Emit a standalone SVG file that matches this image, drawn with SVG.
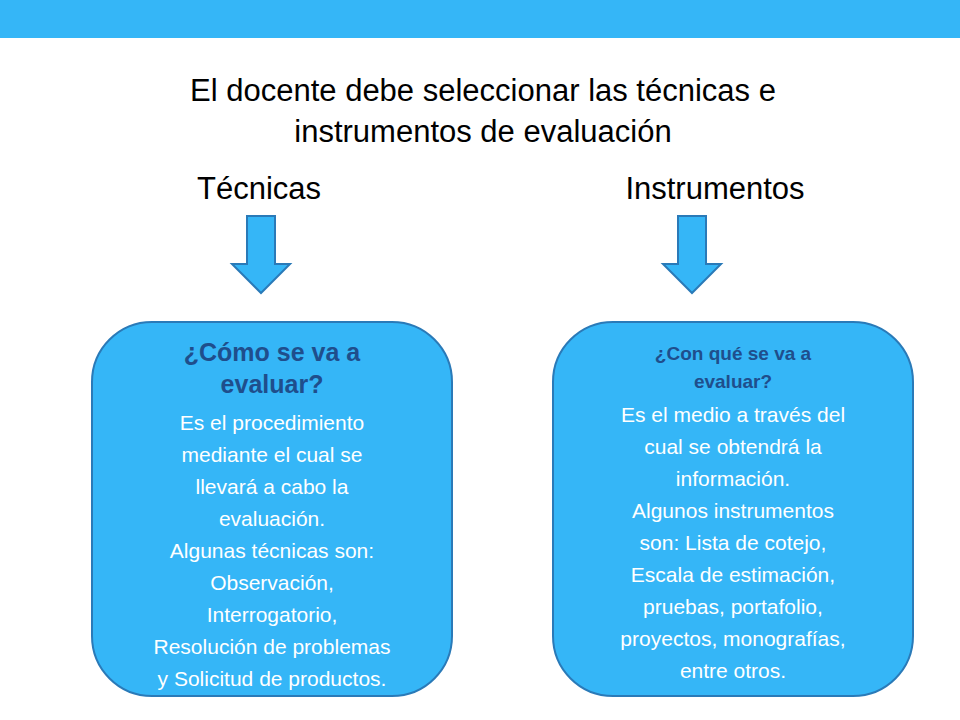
<svg xmlns="http://www.w3.org/2000/svg" width="960" height="720" viewBox="0 0 960 720">
<style>
.t{font-family:"Liberation Sans",Arial,sans-serif;text-anchor:middle;fill:#000}
.b{font-family:"Liberation Sans",Arial,sans-serif;text-anchor:middle;fill:#fff;font-size:21px}
.h{font-family:"Liberation Sans",Arial,sans-serif;text-anchor:middle;fill:#1f4e8c;font-weight:bold}
.box{fill:#35b6f7;stroke:#2a7ab8;stroke-width:2}
.arr{fill:#35b6f7;stroke:#2a7ab8;stroke-width:2}
</style>
<rect x="0" y="0" width="960" height="38" fill="#35b6f7"/>
<g id="title">
<text class="t" x="483" y="101" font-size="31">El docente debe seleccionar las técnicas e</text>
<text class="t" x="483" y="142" font-size="31">instrumentos de evaluación</text>
</g>
<g id="tecnicas"><text class="t" x="259" y="199" font-size="31">Técnicas</text></g>
<g id="instrumentos"><text class="t" x="715" y="199" font-size="31">Instrumentos</text></g>
<g id="connectors">
<path class="arr" d="M247,216 H275 V264 H290 L261,293 L232,264 H247 Z"/>
<path class="arr" d="M678,216 H706 V264 H721 L692,293 L663,264 H678 Z"/>
</g>
<g id="box1">
<rect class="box" x="92" y="322" width="360" height="374" rx="60"/>
<text class="h" x="272" y="361" font-size="25">¿Cómo se va a</text>
<text class="h" x="272" y="393" font-size="25">evaluar?</text>
<text class="b" x="272" y="430">Es el procedimiento</text>
<text class="b" x="272" y="462">mediante el cual se</text>
<text class="b" x="272" y="494">llevará a cabo la</text>
<text class="b" x="272" y="526">evaluación.</text>
<text class="b" x="272" y="558">Algunas técnicas son:</text>
<text class="b" x="272" y="590">Observación,</text>
<text class="b" x="272" y="622">Interrogatorio,</text>
<text class="b" x="272" y="654">Resolución de problemas</text>
<text class="b" x="272" y="686">y Solicitud de productos.</text>
</g>
<g id="box2">
<rect class="box" x="553" y="322" width="360" height="374" rx="60"/>
<text class="h" x="733" y="360" font-size="19">¿Con qué se va a</text>
<text class="h" x="733" y="388" font-size="19">evaluar?</text>
<text class="b" x="733" y="422">Es el medio a través del</text>
<text class="b" x="733" y="454">cual se obtendrá la</text>
<text class="b" x="733" y="486">información.</text>
<text class="b" x="733" y="518">Algunos instrumentos</text>
<text class="b" x="733" y="550">son: Lista de cotejo,</text>
<text class="b" x="733" y="582">Escala de estimación,</text>
<text class="b" x="733" y="614">pruebas, portafolio,</text>
<text class="b" x="733" y="646">proyectos, monografías,</text>
<text class="b" x="733" y="678">entre otros.</text>
</g>
</svg>
